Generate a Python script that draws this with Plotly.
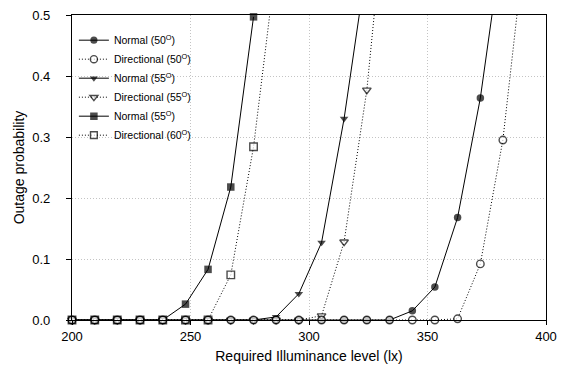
import plotly.graph_objects as go

# Required illuminance levels (lx)
x_lx = [200.0, 209.6, 219.1, 228.7, 238.3, 247.9, 257.4, 267.0, 276.6, 286.1,
        295.7, 305.3, 314.8, 324.4, 334.0, 343.6, 353.1, 362.7, 372.3, 381.8, 391.4]

normal_50 = [0, 0, 0, 0, 0, 0, 0, 0, 0, 0, 0, 0, 0, 0, 0, 0.015, 0.054, 0.168, 0.364, 0.627]
directional_50 = [0, 0, 0, 0, 0, 0, 0, 0, 0, 0, 0, 0, 0, 0, 0, 0, 0, 0.002, 0.092, 0.295, 0.626]
normal_55 = [0, 0, 0, 0, 0, 0, 0, 0, 0, 0.005, 0.043, 0.127, 0.330, 0.585]
directional_55 = [0, 0, 0, 0, 0, 0, 0, 0, 0, 0, 0, 0.007, 0.128, 0.377, 0.757]
normal_60 = [0, 0, 0, 0, 0, 0.026, 0.083, 0.218, 0.497]
directional_60 = [0, 0, 0, 0, 0, 0, 0, 0.074, 0.284, 0.585]

names = ["Normal (50<sup>O</sup>)", "Directional (50<sup>O</sup>)",
         "Normal (55<sup>O</sup>)", "Directional (55<sup>O</sup>)",
         "Normal (55<sup>O</sup>)", "Directional (60<sup>O</sup>)"]
series = [normal_50, directional_50, normal_55, directional_55, normal_60, directional_60]
symbols = ["circle", "circle-open", "triangle-down", "triangle-down-open", "square", "square-open"]
YMAX = 0.5

fig = go.Figure()
# normals first, then directionals, so the open circles sit on top at zero
draw_order = [4, 2, 0, 5, 3, 1]
for i in draw_order:
    ys = series[i]
    xs = x_lx[:len(ys)]
    filled = "open" not in symbols[i]
    sizes = [7.5 if v <= YMAX else 0 for v in ys]
    fig.add_trace(go.Scatter(
        x=xs, y=ys, name=names[i], mode="lines+markers",
        line=dict(color="black", width=1.0, dash="solid" if filled else "1px,2px"),
        marker=dict(symbol=symbols[i].replace("-open", ""), size=sizes,
                    color="black" if filled else "white",
                    line=dict(color="black", width=0 if filled else 1.4)),
        cliponaxis=False, legendrank=i + 1,
    ))

fig.update_layout(
    width=563, height=375,
    margin=dict(l=72, r=17, t=15, b=55, autoexpand=False),
    paper_bgcolor="white", plot_bgcolor="white",
    font=dict(family="Liberation Sans, Arial, sans-serif", color="black", size=13),
    showlegend=True,
    legend=dict(x=0.004, y=0.965, xanchor="left", yanchor="top",
                bgcolor="rgba(0,0,0,0)", font=dict(size=10.5),
                itemwidth=30, tracegroupgap=0),
)
fig.update_xaxes(
    range=[200, 400], tickvals=[200, 250, 300, 350, 400],
    showline=True, linecolor="black", linewidth=1.2, mirror=True,
    ticks="outside", ticklen=4, tickcolor="black",
    showgrid=True, gridcolor="#c4c4c4", griddash="1px,2px", gridwidth=1,
    zeroline=False, ticklabelstandoff=0, automargin=False,
    title=dict(text="Required Illuminance level (lx)", font=dict(size=14), standoff=8),
)
fig.update_yaxes(
    range=[0, YMAX], tickvals=[0, 0.1, 0.2, 0.3, 0.4, 0.5], tickformat=".1f",
    showline=True, linecolor="black", linewidth=1.2, mirror=True,
    ticks="outside", ticklen=5, tickcolor="black",
    showgrid=True, gridcolor="#c4c4c4", griddash="1px,2px", gridwidth=1,
    zeroline=False, ticklabelstandoff=13, automargin=False,
    title=dict(text="Outage probability", font=dict(size=14), standoff=4),
)

fig.write_html("out.html")
